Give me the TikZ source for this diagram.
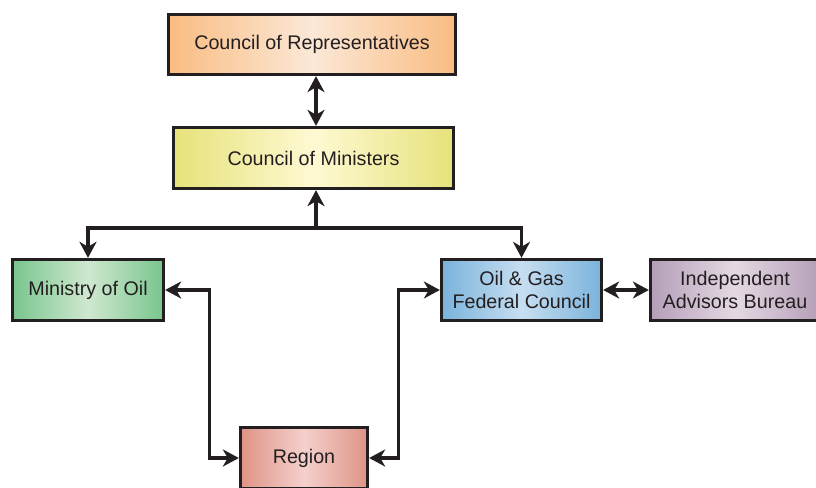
\documentclass[tikz,border=0pt]{standalone}
\usepackage{fontspec}
\setmainfont{Liberation Sans}
\usetikzlibrary{arrows.meta,calc}
\definecolor{txt}{HTML}{231F20}
\definecolor{orE}{HTML}{F9BC82}\definecolor{orM}{HTML}{FBE8D6}
\definecolor{yeE}{HTML}{E6E27A}\definecolor{yeM}{HTML}{FEF9D2}
\definecolor{grE}{HTML}{79C58D}\definecolor{grM}{HTML}{CFE8CF}
\definecolor{blE}{HTML}{7AB3DB}\definecolor{blM}{HTML}{C7DEF1}
\definecolor{puE}{HTML}{B59EB8}\definecolor{puM}{HTML}{E4D9E3}
\definecolor{reE}{HTML}{DF9385}\definecolor{reM}{HTML}{F4D0CC}
\tikzset{
  box/.style={draw=txt, line width=3.3pt, text=txt, align=center,
    font=\fontsize{19.7}{23.5}\selectfont, inner sep=0pt},
  conn/.style={draw=txt, line width=3.2pt,
    {Stealth[length=16pt,width=17pt,inset=5pt]}-{Stealth[length=16pt,width=17pt,inset=5pt]}},
  oneway/.style={draw=txt, line width=3.2pt,
    -{Stealth[length=16pt,width=17pt,inset=5pt]}},
}
\begin{document}
\begin{tikzpicture}[x=1pt,y=-1pt]
\useasboundingbox (0,0) rectangle (816,487);
\node[box, minimum width=287pt, minimum height=60pt, left color=orE, right color=orE, middle color=orM] (cr) at (312,44.5) {Council of Representatives};
\node[box, minimum width=280pt, minimum height=61pt, left color=yeE, right color=yeE, middle color=yeM] (cm) at (313.5,158) {Council of Ministers};
\node[box, minimum width=151pt, minimum height=61pt, left color=grE, right color=grE, middle color=grM] (mo) at (88,290) {Ministry of Oil};
\node[box, minimum width=160pt, minimum height=61pt, left color=blE, right color=blE, middle color=blM] (og) at (521.5,290) {Oil \& Gas\\Federal Council};
\node[box, minimum width=169pt, minimum height=61pt, left color=puE, right color=puE, middle color=puM] (ia) at (735,290) {Independent\\Advisors Bureau};
\node[box, minimum width=127pt, minimum height=61pt, left color=reE, right color=reE, middle color=reM] (rg) at (304,458) {Region};
\coordinate (j) at (316,228);
\draw[conn] (cr.south -| j) -- (cm.north -| j);
\draw[oneway] (j) -- (cm.south -| j);
\draw[oneway, line join=miter] (j) -| (mo.north);
\draw[oneway, line join=miter] (j) -| (og.north);
\draw[conn] (og.east) -- (ia.west);
\draw[conn, line join=miter] (mo.east) -- ++(44,0) |- (rg.west);
\draw[conn, line join=miter] (og.west) -- ++(-41,0) |- (rg.east);
\end{tikzpicture}
\end{document}
